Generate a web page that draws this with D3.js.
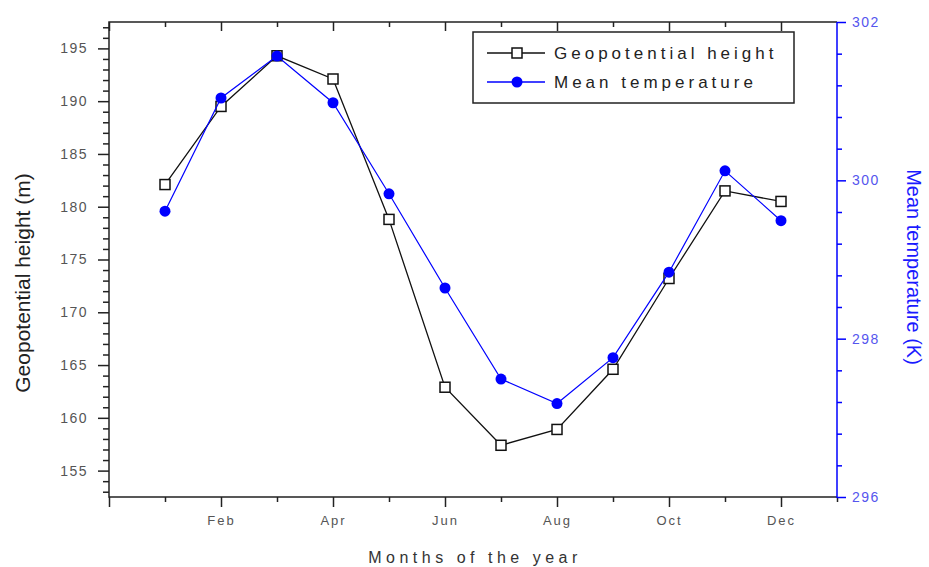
<!DOCTYPE html>
<html>
<head>
<meta charset="utf-8">
<script src="https://cdn.jsdelivr.net/npm/d3@7"></script>
<style>
  body { margin: 0; background: #fff; }
  svg { display: block; font-family: "Liberation Sans", Arial, sans-serif; }
</style>
</head>
<body>
<svg id="chart" width="929" height="567"></svg>
<script>
// monthly values
const months = ["Jan", "Feb", "Mar", "Apr", "May", "Jun", "Jul", "Aug", "Sep", "Oct", "Nov", "Dec"];
const geoHeight = [182.1, 189.5, 194.3, 192.1, 178.8, 162.9, 157.4, 158.9, 164.6, 173.2, 181.5, 180.5];
const meanTemp = [299.61, 301.04, 301.57, 300.98, 299.83, 298.64, 297.49, 297.18, 297.76, 298.84, 300.12, 299.49];
const leftTicks = [155, 160, 165, 170, 175, 180, 185, 190, 195];
const rightTicks = [296, 298, 300, 302];

const svg = d3.select("#chart");
const L = 109, R = 837, T = 22, B = 497;

const x = d3.scaleLinear().domain([0, 13]).range([L, R]);
const yL = d3.scaleLinear().domain([152.5, 197.5]).range([B, T]);
const yR = d3.scaleLinear().domain([296, 302]).range([B, T]);

const majorX = d3.range(0, 13, 2);
const minorX = d3.range(1, 14, 2);

// bottom axis
svg.append("g")
    .attr("transform", `translate(0,${B})`)
    .call(d3.axisBottom(x).tickValues(majorX).tickSize(10).tickPadding(9)
      .tickFormat(d => d === 0 ? "" : months[d - 1]))
    .call(g => g.select(".domain").remove())
    .call(g => g.selectAll("line").attr("stroke", "#222").attr("stroke-width", 1.5))
    .call(g => g.selectAll("text").attr("font-size", 13).attr("fill", "#555")
      .attr("letter-spacing", "2px").attr("font-family", "Liberation Sans, Arial"));

svg.append("g")
    .attr("transform", `translate(0,${B})`)
    .call(d3.axisBottom(x).tickValues(minorX).tickSize(5).tickFormat(""))
    .call(g => g.select(".domain").remove())
    .call(g => g.selectAll("line").attr("stroke", "#222").attr("stroke-width", 1.5));

// top axis, ticks inward
svg.append("g")
    .attr("transform", `translate(0,${T})`)
    .call(d3.axisBottom(x).tickValues(majorX).tickSize(9).tickFormat(""))
    .call(g => g.select(".domain").remove())
    .call(g => g.selectAll("line").attr("stroke", "#222").attr("stroke-width", 1.5));
svg.append("g")
    .attr("transform", `translate(0,${T})`)
    .call(d3.axisBottom(x).tickValues(minorX.filter(d => d < 13)).tickSize(5).tickFormat(""))
    .call(g => g.select(".domain").remove())
    .call(g => g.selectAll("line").attr("stroke", "#222").attr("stroke-width", 1.5));

// left axis
svg.append("g")
    .attr("transform", `translate(${L},0)`)
    .call(d3.axisLeft(yL).tickValues(leftTicks).tickSize(11).tickPadding(10))
    .call(g => g.select(".domain").remove())
    .call(g => g.selectAll("line").attr("stroke", "#222").attr("stroke-width", 1.5))
    .call(g => g.selectAll("text").attr("font-size", 14).attr("fill", "#555")
      .attr("letter-spacing", "1.5px").attr("font-family", "Liberation Sans, Arial"));
svg.append("g")
    .attr("transform", `translate(${L},0)`)
    .call(d3.axisLeft(yL).tickValues(d3.range(153, 198).filter(v => v % 5 !== 0)).tickSize(6).tickFormat(""))
    .call(g => g.select(".domain").remove())
    .call(g => g.selectAll("line").attr("stroke", "#222").attr("stroke-width", 1.5));

// right axis (blue)
svg.append("g")
    .attr("transform", `translate(${R},0)`)
    .call(d3.axisRight(yR).tickValues(rightTicks).tickSize(9).tickPadding(6).tickFormat(d3.format("d")))
    .call(g => g.select(".domain").remove())
    .call(g => g.selectAll("line").attr("stroke", "#0000ff").attr("stroke-width", 1.5))
    .call(g => g.selectAll("text").attr("font-size", 14).attr("fill", "#5555ee")
      .attr("letter-spacing", "1.5px").attr("font-family", "Liberation Sans, Arial"));
svg.append("g")
    .attr("transform", `translate(${R},0)`)
    .call(d3.axisRight(yR).tickValues(d3.range(296.4, 302, 0.4).filter(v => Math.abs(v / 2 - Math.round(v / 2)) > 0.01)).tickSize(5).tickFormat(""))
    .call(g => g.select(".domain").remove())
    .call(g => g.selectAll("line").attr("stroke", "#0000ff").attr("stroke-width", 1.5));

// frame
svg.append("path")
    .attr("d", `M${R},${T}H${L}V${B}H${R}`)
    .attr("fill", "none").attr("stroke", "#222").attr("stroke-width", 1.5);
svg.append("line")
    .attr("x1", R).attr("x2", R).attr("y1", T).attr("y2", B + 1)
    .attr("stroke", "#0000ff").attr("stroke-width", 1.5);

// axis titles
svg.append("text")
    .attr("transform", `translate(30,283) rotate(-90)`)
    .attr("text-anchor", "middle").attr("font-size", 21).attr("fill", "#222")
    .text("Geopotential height (m)");
svg.append("text")
    .attr("transform", `translate(907,267) rotate(90)`)
    .attr("text-anchor", "middle").attr("font-size", 20).attr("fill", "#1a1aff")
    .text("Mean temperature (K)");
svg.append("text")
    .attr("x", (L + R) / 2 + 2).attr("y", 563)
    .attr("text-anchor", "middle").attr("font-size", 16).attr("fill", "#333")
    .attr("letter-spacing", "4.5px")
    .text("Months of the year");

// series
const geoLine = d3.line().x((d, i) => x(i + 1)).y(d => yL(d));
const tempLine = d3.line().x((d, i) => x(i + 1)).y(d => yR(d));

svg.append("path").datum(geoHeight)
    .attr("d", geoLine).attr("fill", "none").attr("stroke", "#111").attr("stroke-width", 1.3);
svg.append("g").selectAll("rect")
    .data(geoHeight)
    .join("rect")
      .attr("x", (d, i) => x(i + 1) - 5)
      .attr("y", d => yL(d) - 5)
      .attr("width", 10).attr("height", 10)
      .attr("fill", "#fff").attr("stroke", "#111").attr("stroke-width", 1.5);

svg.append("path").datum(meanTemp)
    .attr("d", tempLine).attr("fill", "none").attr("stroke", "#0000ff").attr("stroke-width", 1.2);
svg.append("g").selectAll("circle")
    .data(meanTemp)
    .join("circle")
      .attr("cx", (d, i) => x(i + 1))
      .attr("cy", d => yR(d))
      .attr("r", 5.5)
      .attr("fill", "#0000ff");

// legend
const lg = svg.append("g");
lg.append("rect")
    .attr("x", 473).attr("y", 32).attr("width", 321).attr("height", 71)
    .attr("fill", "#fff").attr("stroke", "#222").attr("stroke-width", 1.5);
const legendItems = [
  {label: "Geopotential height", color: "#111", y: 53, square: true},
  {label: "Mean temperature", color: "#0000ff", y: 82, square: false}
];
legendItems.forEach(it => {
  lg.append("line").attr("x1", 487).attr("x2", 545).attr("y1", it.y).attr("y2", it.y)
    .attr("stroke", it.color).attr("stroke-width", 1.3);
  if (it.square) {
    lg.append("rect").attr("x", 512).attr("y", it.y - 5).attr("width", 10).attr("height", 10)
      .attr("fill", "#fff").attr("stroke", it.color).attr("stroke-width", 1.5);
  } else {
    lg.append("circle").attr("cx", 517).attr("cy", it.y).attr("r", 5.5).attr("fill", it.color);
  }
  lg.append("text").attr("x", 554).attr("y", it.y + 6)
    .attr("font-size", 17).attr("fill", "#222").attr("letter-spacing", "4px")
    .text(it.label);
});
</script>
</body>
</html>
